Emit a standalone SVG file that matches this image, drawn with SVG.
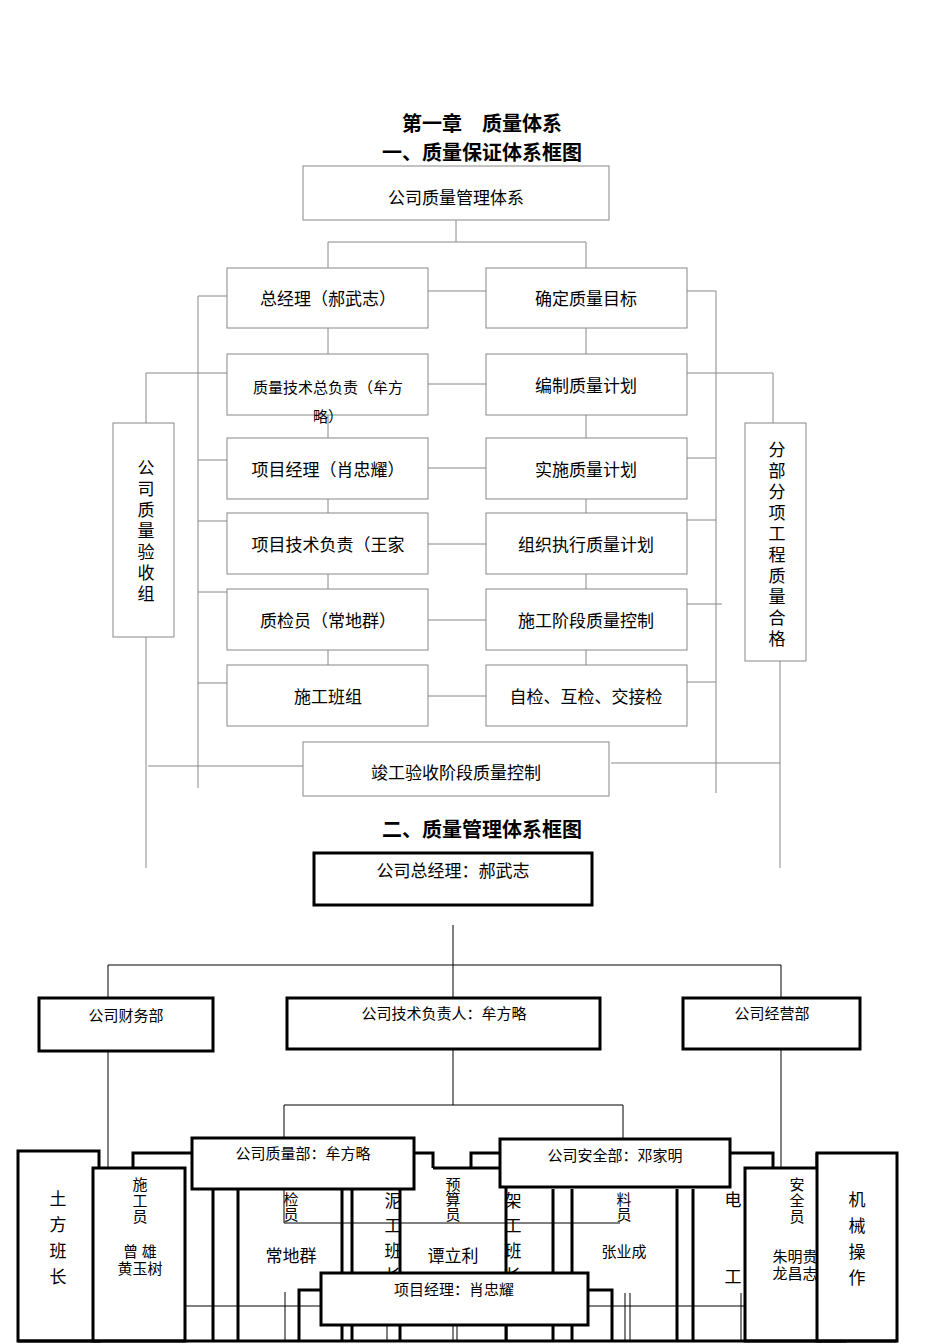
<svg xmlns="http://www.w3.org/2000/svg" width="950" height="1344" viewBox="0 0 950 1344">
<style>
.b{fill:#fff;stroke:#888;stroke-width:1}
.k{fill:#fff;stroke:#000;stroke-width:3}
.kn{fill:none;stroke:#000;stroke-width:3}
.l{stroke:#888;stroke-width:1;fill:none}
.d{stroke:#000;stroke-width:1;fill:none}
.t{font-family:"Liberation Serif","Noto Sans CJK SC",serif;font-size:17px;fill:#000;text-anchor:middle}
.s{font-family:"Liberation Serif","Noto Sans CJK SC",serif;font-size:15px;fill:#000;text-anchor:middle}
.h{font-family:"Liberation Serif","Noto Sans CJK SC",serif;font-size:20px;font-weight:bold;fill:#000;text-anchor:middle}
</style>
<rect width="950" height="1344" fill="#fff"/>
<text class="h" x="482" y="131">第一章　质量体系</text>
<text class="h" x="482" y="160">一、质量保证体系框图</text>
<text class="h" x="482" y="837">二、质量管理体系框图</text>
<g id="connectors">
<path class="l" d="M456 220V242M328 242H586M328 242V268M586 242V268"/>
<path class="l" d="M328 328V665M586 328V665"/>
<path class="l" d="M428 291H486M428 384H486M428 468H486M428 544H486M428 620H486M428 696H486"/>
<path class="l" d="M198 296V788M198 296H227M198 460H227M198 521H227M198 592H227M198 683H227"/>
<path class="l" d="M146 423V373H228M146 637V868M148 766H303"/>
<path class="l" d="M716 291V793M687 291H716M687 458H716M687 520H716M687 604H722M687 682H716"/>
<path class="l" d="M773 423V373H687M780 661V868M611 763H780"/>
<path class="d" d="M453 925V965M108 965H781M108 965V998M453 965V998M781 965V998"/>
<path class="d" d="M453 1049V1105M284 1105H623M284 1105V1138M623 1105V1139"/>
<path class="d" d="M108 1051V1306H320M781 1049V1306H588"/>
<path class="d" d="M284 1223H620M284 1189V1223"/>
<path class="d" d="M55 1293V1341M142 1292V1341M170 1293V1341M285 1292V1341M387 1292V1341M453 1306V1341M457 1306V1341M507 1292V1341M625 1293V1341M630 1293V1341M741 1293V1341M788 1306V1341M802 1292V1341M857 1293V1341"/>
</g>
<g id="n1"><rect class="b" x="303" y="166" width="306" height="54"/><text class="t" x="456" y="204">公司质量管理体系</text></g>
<g id="n2"><rect class="b" x="227" y="268" width="201" height="60"/><text class="t" x="328" y="305">总经理（郝武志）</text></g>
<g id="n3"><rect class="b" x="227" y="354" width="201" height="61"/><text class="s" x="328" y="393">质量技术总负责（牟方</text><text class="s" x="328" y="422">略）</text></g>
<g id="n4"><rect class="b" x="227" y="438" width="201" height="61"/><text class="t" x="328" y="476">项目经理（肖忠耀）</text></g>
<g id="n5"><rect class="b" x="227" y="513" width="201" height="61"/><text class="t" x="328" y="551">项目技术负责（王家</text></g>
<g id="n6"><rect class="b" x="227" y="589" width="201" height="61"/><text class="t" x="328" y="627">质检员（常地群）</text></g>
<g id="n7"><rect class="b" x="227" y="665" width="201" height="61"/><text class="t" x="328" y="703">施工班组</text></g>
<g id="n8"><rect class="b" x="486" y="268" width="201" height="60"/><text class="t" x="586" y="305">确定质量目标</text></g>
<g id="n9"><rect class="b" x="486" y="354" width="201" height="61"/><text class="t" x="586" y="392">编制质量计划</text></g>
<g id="n10"><rect class="b" x="486" y="438" width="201" height="61"/><text class="t" x="586" y="476">实施质量计划</text></g>
<g id="n11"><rect class="b" x="486" y="513" width="201" height="61"/><text class="t" x="586" y="551">组织执行质量计划</text></g>
<g id="n12"><rect class="b" x="486" y="589" width="201" height="61"/><text class="t" x="586" y="627">施工阶段质量控制</text></g>
<g id="n13"><rect class="b" x="486" y="665" width="201" height="61"/><text class="t" x="586" y="703">自检、互检、交接检</text></g>
<g id="n14"><rect class="b" x="303" y="742" width="306" height="54"/><text class="t" x="456" y="779">竣工验收阶段质量控制</text></g>
<g id="n15"><rect class="b" x="113" y="423" width="61" height="214"/><text class="t" x="146" y="474">公</text><text class="t" x="146" y="495">司</text><text class="t" x="146" y="516">质</text><text class="t" x="146" y="537">量</text><text class="t" x="146" y="558">验</text><text class="t" x="146" y="579">收</text><text class="t" x="146" y="600">组</text></g>
<g id="n16"><rect class="b" x="745" y="423" width="61" height="238"/><text class="t" x="777" y="456">分</text><text class="t" x="777" y="477">部</text><text class="t" x="777" y="498">分</text><text class="t" x="777" y="519">项</text><text class="t" x="777" y="540">工</text><text class="t" x="777" y="561">程</text><text class="t" x="777" y="582">质</text><text class="t" x="777" y="603">量</text><text class="t" x="777" y="624">合</text><text class="t" x="777" y="645">格</text></g>
<g id="m1"><rect class="k" x="314" y="853" width="278" height="52" stroke-width="2.5"/><text class="t" x="453" y="877">公司总经理：郝武志</text></g>
<g id="m2"><rect class="k" x="39" y="998" width="174" height="53"/><text class="s" x="126" y="1021">公司财务部</text></g>
<g id="m3"><rect class="k" x="287" y="998" width="313" height="51"/><text class="s" x="444" y="1019">公司技术负责人：牟方略</text></g>
<g id="m4"><rect class="k" x="683" y="998" width="177" height="51"/><text class="s" x="772" y="1019">公司经营部</text></g>
<g id="bottom">
<path class="kn" d="M133 1168V1153H192M414 1153H433V1168M471 1168V1153H500M730 1153H773V1168M817 1168V1153"/>
<rect class="k" x="18" y="1151" width="81" height="190"/>
<text class="t" x="58" y="1205">土</text><text class="t" x="58" y="1231">方</text><text class="t" x="58" y="1257">班</text><text class="t" x="58" y="1283">长</text>
<rect class="k" x="93" y="1168" width="92" height="173"/>
<text class="s" x="140" y="1190">施</text><text class="s" x="140" y="1206">工</text><text class="s" x="140" y="1222">员</text>
<text class="s" x="140" y="1257">曾 雄</text><text class="s" x="140" y="1274">黄玉树</text>
<path class="kn" d="M213 1189V1341M238 1189V1341M342 1189V1341M352 1189V1341M400 1168V1341M433 1168H506M506 1168V1341M553 1189V1341M572 1189V1341M677 1189V1341M693 1189V1341M237 1168H192"/>
<text class="s" x="291" y="1205">检</text><text class="s" x="291" y="1220">员</text>
<text class="t" x="291" y="1262">常地群</text>
<text class="t" x="393" y="1207">泥</text><text class="t" x="393" y="1232">工</text><text class="t" x="393" y="1257">班</text><text class="t" x="393" y="1282">长</text>
<text class="s" x="453" y="1190">预</text><text class="s" x="453" y="1205">算</text><text class="s" x="453" y="1220">员</text>
<text class="t" x="453" y="1262">谭立利</text>
<text class="t" x="513" y="1207">架</text><text class="t" x="513" y="1232">工</text><text class="t" x="513" y="1257">班</text><text class="t" x="513" y="1282">长</text>
<text class="s" x="624" y="1205">料</text><text class="s" x="624" y="1220">员</text>
<text class="s" x="624" y="1257">张业成</text>
<text class="t" x="733" y="1206">电</text><text class="t" x="733" y="1283">工</text>
<rect class="k" x="745" y="1168" width="100" height="173"/>
<text class="s" x="797" y="1190">安</text><text class="s" x="797" y="1206">全</text><text class="s" x="797" y="1222">员</text>
<text class="s" x="795" y="1262">朱明贵</text><text class="s" x="795" y="1279">龙昌志</text>
<rect class="k" x="817" y="1153" width="80" height="188"/>
<text class="t" x="857" y="1206">机</text><text class="t" x="857" y="1232">械</text><text class="t" x="857" y="1258">操</text><text class="t" x="857" y="1284">作</text>
<path class="kn" d="M18 1341H897M299 1341V1290H321M588 1290H612V1341"/>
</g>
<g id="m5"><rect class="k" x="192" y="1138" width="222" height="51"/><text class="s" x="303" y="1159">公司质量部：牟方略</text></g>
<g id="m6"><rect class="k" x="500" y="1139" width="230" height="48"/><text class="s" x="615" y="1161">公司安全部：邓家明</text></g>
<g id="m7"><rect class="k" x="321" y="1273" width="267" height="52"/><text class="s" x="454" y="1295">项目经理：肖忠耀</text></g>
</svg>
